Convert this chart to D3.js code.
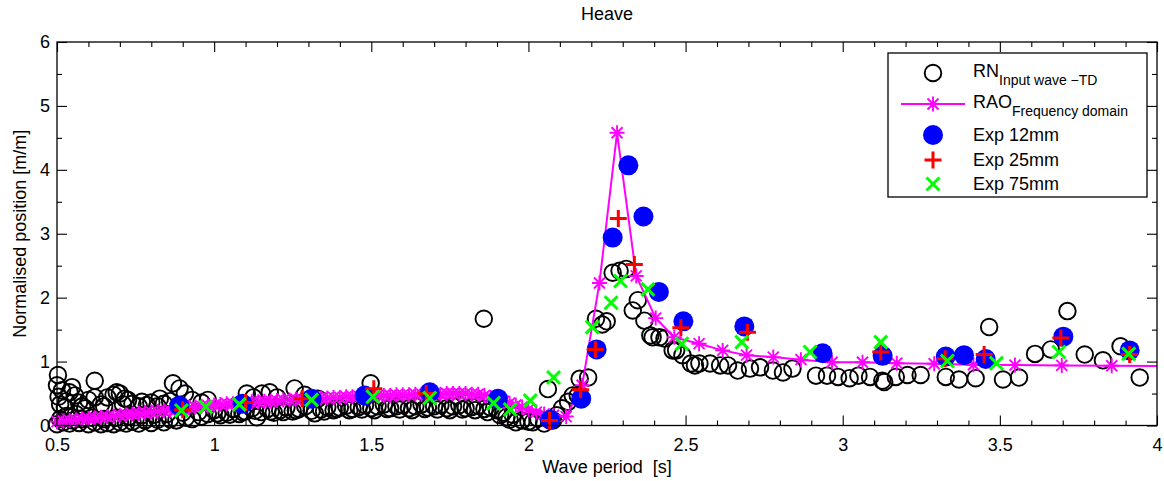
<!DOCTYPE html>
<html><head><meta charset="utf-8">
<script src="https://cdn.jsdelivr.net/npm/d3@7"></script>
<style>
body{margin:0;background:#fff}
svg text{font-family:"Liberation Sans",Arial,Helvetica,sans-serif;fill:#000}
</style>
</head><body>
<svg id="c" width="1164" height="481"></svg>
<script>
// ---- data ----
const titleText = "Heave";
const xLabel = "Wave period  [s]";
const yLabel = "Normalised position [m/m]";
const xTickValues = [0.5, 1, 1.5, 2, 2.5, 3, 3.5, 4];
const yTickValues = [0, 1, 2, 3, 4, 5, 6];
const seriesNames = ["RN", "RAO", "Exp 12mm", "Exp 25mm", "Exp 75mm"];
const seriesSubs = ["Input wave \u2212TD", "Frequency domain", "", "", ""];

// RN (input wave, time domain) : [period, value]
const rnPoints = [
 [0.503,0.79],[0.50,0.63],[0.505,0.45],[0.51,0.33],[0.516,0.55],[0.525,0.28],[0.54,0.52],[0.548,0.60],
 [0.557,0.47],[0.57,0.36],[0.58,0.30],[0.60,0.40],[0.62,0.70],[0.62,0.44],[0.64,0.33],[0.66,0.44],
 [0.68,0.48],[0.69,0.52],[0.70,0.50],[0.716,0.42],[0.726,0.40],[0.74,0.34],[0.76,0.30],[0.786,0.32],
 [0.80,0.36],[0.827,0.42],[0.84,0.34],[0.869,0.66],[0.89,0.58],[0.907,0.50],[0.93,0.40],[0.96,0.36],
 [0.53,0.38],[0.59,0.27],[0.65,0.30],[0.71,0.33],[0.77,0.37],[0.82,0.30],[0.86,0.38],[0.98,0.40],
 [1.104,0.50],[1.125,0.44],[1.152,0.50],[1.177,0.52],[1.20,0.44],[1.256,0.58],[1.288,0.48],[1.33,0.42],
 [1.498,0.66],[1.858,1.67],
 [0.50,0.02],[0.51,0.10],[0.52,0.05],[0.53,0.15],[0.54,0.03],[0.55,0.08],[0.56,0.18],[0.57,0.04],
 [0.58,0.10],[0.60,0.02],[0.61,0.12],[0.62,0.05],[0.64,0.02],[0.65,0.10],[0.66,0.04],[0.68,0.02],
 [0.69,0.12],[0.70,0.05],[0.72,0.03],[0.73,0.14],[0.74,0.06],[0.76,0.03],[0.77,0.16],[0.78,0.08],
 [0.80,0.04],[0.81,0.17],[0.82,0.09],[0.84,0.05],[0.85,0.18],[0.86,0.10],[0.88,0.08],[0.90,0.20],
 [0.91,0.12],[0.93,0.10],[0.95,0.21],[0.96,0.14],[0.98,0.18],[1.00,0.24],[1.02,0.16],[1.04,0.20],
 [1.06,0.26],[1.08,0.18],[1.10,0.22],[1.12,0.27],[1.136,0.13],[1.15,0.21],[1.17,0.26],[1.19,0.20],
 [1.21,0.24],[1.23,0.28],[1.25,0.22],[1.27,0.26],[1.29,0.30],[1.32,0.19],[1.34,0.25],[1.36,0.29],
 [1.38,0.24],[1.40,0.28],[1.42,0.31],[1.44,0.26],[1.46,0.29],[1.48,0.32],[1.50,0.27],[1.52,0.30],
 [1.54,0.33],[1.56,0.27],[1.58,0.30],[1.60,0.32],[1.62,0.27],[1.64,0.30],[1.66,0.33],[1.68,0.28],
 [1.70,0.30],[1.72,0.32],[1.74,0.27],[1.76,0.30],[1.78,0.32],[1.80,0.27],[1.82,0.29],[1.84,0.31],
 [1.86,0.26],[1.88,0.28],[1.90,0.24],[1.92,0.20],[1.93,0.13],[1.95,0.17],[1.96,0.05],[1.98,0.08],
 [1.01,0.19],[1.05,0.17],[1.09,0.21],[1.13,0.23],[1.18,0.22],[1.22,0.21],[1.26,0.24],[1.31,0.23],
 [1.35,0.22],[1.39,0.26],[1.43,0.24],[1.47,0.25],[1.51,0.24],[1.55,0.26],[1.59,0.25],[1.63,0.24],
 [1.67,0.26],[1.71,0.25],[1.75,0.24],[1.79,0.25],[1.83,0.24],[1.87,0.21],[1.91,0.16],[1.94,0.09],
 [2.00,0.06],[2.014,0.05],[2.03,0.11],[2.05,0.03],[2.062,0.57],[2.078,0.08],[2.09,0.16],[2.107,0.27],
 [2.126,0.37],[2.141,0.47],[2.157,0.47],[2.163,0.73],[2.19,0.75],[2.215,1.67],[2.235,1.58],[2.249,1.63],
 [2.268,2.39],[2.29,2.42],[2.311,2.45],[2.332,1.80],[2.348,1.96],[2.369,1.64],[2.388,1.41],[2.395,1.38],
 [2.417,1.38],[2.433,1.36],[2.459,1.175],[2.47,1.175],[2.49,1.10],[2.517,0.97],[2.53,0.94],[2.544,0.97],
 [2.578,0.97],[2.61,0.94],[2.635,0.94],[2.666,0.86],[2.705,0.89],[2.737,0.91],[2.778,0.86],[2.81,0.83],
 [2.84,0.89],[2.915,0.78],[2.95,0.78],[2.985,0.76],[3.022,0.74],[3.05,0.78],[3.087,0.76],[3.126,0.70],
 [3.132,0.68],[3.169,0.76],[3.206,0.79],[3.248,0.79],[3.328,0.76],[3.37,0.72],[3.423,0.74],[3.466,1.54],
 [3.51,0.72],[3.561,0.75],[3.612,1.12],[3.662,1.19],[3.715,1.79],[3.77,1.11],[3.828,1.02],[3.884,1.24],
 [3.945,0.75]
];

// RAO (frequency domain)
const raoPoints = [
 [0.50,0.06],[0.52,0.07],[0.54,0.08],[0.56,0.09],[0.58,0.10],[0.60,0.11],[0.62,0.12],[0.64,0.13],
 [0.66,0.14],[0.68,0.15],[0.70,0.16],[0.72,0.17],[0.74,0.18],[0.76,0.19],[0.78,0.20],[0.80,0.21],
 [0.82,0.22],[0.84,0.23],[0.86,0.24],[0.88,0.25],[0.90,0.26],[0.92,0.28],[0.94,0.29],[0.96,0.30],
 [0.98,0.31],[1.00,0.32],[1.02,0.33],[1.04,0.34],[1.06,0.34],[1.08,0.35],[1.10,0.36],[1.12,0.37],
 [1.14,0.37],[1.16,0.38],[1.18,0.38],[1.20,0.39],[1.22,0.40],[1.24,0.40],[1.26,0.41],[1.28,0.41],
 [1.30,0.42],[1.32,0.42],[1.34,0.43],[1.36,0.43],[1.38,0.44],[1.40,0.44],[1.42,0.45],[1.44,0.45],
 [1.46,0.46],[1.48,0.46],[1.50,0.46],[1.52,0.47],[1.54,0.47],[1.56,0.47],[1.58,0.48],[1.60,0.48],
 [1.62,0.48],[1.64,0.49],[1.66,0.49],[1.68,0.49],[1.70,0.49],[1.72,0.49],[1.74,0.50],[1.76,0.50],
 [1.78,0.50],[1.80,0.50],[1.82,0.49],[1.84,0.49],[1.86,0.47],[1.88,0.44],[1.90,0.41],[1.92,0.38],
 [1.94,0.35],[1.96,0.32],[1.98,0.29],[2.00,0.25],[2.025,0.21],[2.05,0.18],[2.08,0.16],[2.12,0.14],
 [2.171,0.63],[2.226,2.23],[2.282,4.58],[2.343,2.34],[2.405,1.68],[2.464,1.38],[2.543,1.28],[2.618,1.175],
 [2.694,1.10],[2.779,1.07],[2.867,1.03],[2.966,0.99],[3.063,0.99],[3.172,0.975],[3.291,0.966],[3.416,0.95],
 [3.548,0.945],[3.697,0.94],[3.856,0.935],[4.02,0.93]
];

const exp12Points = [
 [0.889,0.31],[1.09,0.34],[1.31,0.42],[1.479,0.47],[1.686,0.52],[1.903,0.42],[2.069,0.09],[2.168,0.42],
 [2.217,1.19],[2.268,2.94],[2.318,4.07],[2.366,3.27],[2.415,2.09],[2.493,1.63],[2.687,1.55],[2.936,1.13],
 [3.127,1.09],[3.328,1.08],[3.386,1.10],[3.455,1.04],[3.702,1.39],[3.913,1.175]
];
const exp25Points = [
 [0.90,0.245],[1.10,0.36],[1.28,0.42],[1.508,0.575],[1.675,0.50],[2.067,0.08],[2.166,0.56],[2.213,1.19],
 [2.286,3.24],[2.337,2.52],[2.485,1.53],[2.697,1.46],[3.121,1.15],[3.326,1.045],[3.45,1.11],[3.694,1.37],
 [3.913,1.11]
];
const exp75Points = [
 [0.896,0.235],[0.973,0.29],[1.08,0.33],[1.31,0.40],[1.505,0.45],[1.686,0.43],[1.889,0.35],[1.942,0.25],
 [2.006,0.39],[2.08,0.75],[2.203,1.54],[2.263,1.92],[2.293,2.26],[2.38,2.13],[2.488,1.28],[2.679,1.305],
 [2.896,1.15],[3.121,1.305],[3.333,1.01],[3.489,0.976],[3.688,1.15],[3.91,1.12]
];

// ---- drawing ----
const svg = d3.select("#c");
const box = {l:57, r:1157, t:42, b:425.5};
const x = d3.scaleLinear().domain([0.5, 4]).range([box.l, box.r]);
const y = d3.scaleLinear().domain([0, 6]).range([box.b, box.t]);
const FS = 18;

svg.append("rect").attr("width",1164).attr("height",481).attr("fill","#fff");

svg.append("defs").append("clipPath").attr("id","clip")
  .append("rect").attr("x",box.l).attr("y",box.t).attr("width",box.r-box.l).attr("height",box.b-box.t);

// axes
const xMinor = d3.range(5, 41).map(d => d/10).filter(v => !xTickValues.some(t => Math.abs(t-v) < 1e-9));
const yMinor = d3.range(1, 12, 2).map(d => d/2);
const fmt = d => String(d);

function styleAxis(g){
  g.select(".domain").remove();
  g.selectAll("line").attr("stroke","#000").attr("stroke-width",1.1);
  g.selectAll("text").attr("font-size",FS).attr("fill","#000")
    .attr("font-family",'"Liberation Sans",Arial,Helvetica,sans-serif');
}
svg.append("g").attr("transform",`translate(0,${box.b})`)
  .call(d3.axisBottom(x).tickValues(xTickValues).tickFormat(fmt).tickSize(-10).tickPadding(13)).call(styleAxis);
svg.append("g").attr("transform",`translate(0,${box.b})`)
  .call(d3.axisBottom(x).tickValues(xMinor).tickFormat("").tickSize(-5)).call(styleAxis);
svg.append("g").attr("transform",`translate(0,${box.t})`)
  .call(d3.axisTop(x).tickValues(xTickValues).tickFormat("").tickSize(-10)).call(styleAxis);
svg.append("g").attr("transform",`translate(0,${box.t})`)
  .call(d3.axisTop(x).tickValues(xMinor).tickFormat("").tickSize(-5)).call(styleAxis);
svg.append("g").attr("transform",`translate(${box.l},0)`)
  .call(d3.axisLeft(y).tickValues(yTickValues).tickFormat(fmt).tickSize(-10).tickPadding(7)).call(styleAxis);
svg.append("g").attr("transform",`translate(${box.l},0)`)
  .call(d3.axisLeft(y).tickValues(yMinor).tickFormat("").tickSize(-5)).call(styleAxis);
svg.append("g").attr("transform",`translate(${box.r},0)`)
  .call(d3.axisRight(y).tickValues(yTickValues).tickFormat("").tickSize(-10)).call(styleAxis);
svg.append("g").attr("transform",`translate(${box.r},0)`)
  .call(d3.axisRight(y).tickValues(yMinor).tickFormat("").tickSize(-5)).call(styleAxis);

// RN circles
const rnR = 8.3, rnW = 1.9;
svg.append("g").selectAll("circle").data(rnPoints).join("circle")
  .attr("cx", d => x(d[0])).attr("cy", d => y(d[1])).attr("r", rnR)
  .attr("fill","none").attr("stroke","#000").attr("stroke-width",rnW);

// RAO line + asterisks
const astPath = "M-7.5,0H7.5M0,-7.5V7.5M-5.5,-5.5L5.5,5.5M-5.5,5.5L5.5,-5.5";
svg.append("path").datum(raoPoints).attr("clip-path","url(#clip)")
  .attr("d", d3.line().x(d => x(d[0])).y(d => y(d[1])))
  .attr("fill","none").attr("stroke","#ff00ff").attr("stroke-width",2);
svg.append("g").selectAll("path").data(raoPoints.filter(d => d[0] <= 4)).join("path")
  .attr("transform", d => `translate(${x(d[0])},${y(d[1])})`).attr("d", astPath)
  .attr("fill","none").attr("stroke","#ff00ff").attr("stroke-width",1.9);

// Exp 12mm
svg.append("g").selectAll("circle").data(exp12Points).join("circle")
  .attr("cx", d => x(d[0])).attr("cy", d => y(d[1])).attr("r", 10).attr("fill","#0000ff");
// Exp 25mm
const plusPath = "M-8.5,0H8.5M0,-8.5V8.5";
svg.append("g").selectAll("path").data(exp25Points).join("path")
  .attr("transform", d => `translate(${x(d[0])},${y(d[1])})`).attr("d", plusPath)
  .attr("fill","none").attr("stroke","#ff0000").attr("stroke-width",3);
// Exp 75mm
const crossPath = "M-6.5,-6.5L6.5,6.5M-6.5,6.5L6.5,-6.5";
svg.append("g").selectAll("path").data(exp75Points).join("path")
  .attr("transform", d => `translate(${x(d[0])},${y(d[1])})`).attr("d", crossPath)
  .attr("fill","none").attr("stroke","#00ff00").attr("stroke-width",3);

// box
svg.append("rect").attr("x",box.l).attr("y",box.t).attr("width",box.r-box.l).attr("height",box.b-box.t)
  .attr("fill","none").attr("stroke","#000").attr("stroke-width",1.3);

// titles
svg.append("text").attr("x",(box.l+box.r)/2).attr("y",20).attr("text-anchor","middle")
  .attr("font-size",FS).text(titleText);
svg.append("text").attr("x",(box.l+box.r)/2).attr("y",473).attr("text-anchor","middle")
  .attr("font-size",FS).style("white-space","pre").text(xLabel);
svg.append("text").attr("transform",`translate(25.5,${(box.t+box.b)/2}) rotate(-90)`)
  .attr("text-anchor","middle").attr("font-size",FS).text(yLabel);

// legend
const lg = svg.append("g");
lg.append("rect").attr("x",888).attr("y",53).attr("width",259).attr("height",144)
  .attr("fill","#fff").attr("stroke","#000").attr("stroke-width",1.3);
const symY = [73, 104, 135, 160, 184];
const txtY = [77, 108, 141, 166, 190];
const sx = 933;
lg.append("circle").attr("cx",sx).attr("cy",symY[0]).attr("r",rnR)
  .attr("fill","none").attr("stroke","#000").attr("stroke-width",rnW);
lg.append("line").attr("x1",901).attr("x2",965).attr("y1",symY[1]).attr("y2",symY[1])
  .attr("stroke","#ff00ff").attr("stroke-width",2);
lg.append("path").attr("transform",`translate(${sx},${symY[1]})`).attr("d",astPath)
  .attr("fill","none").attr("stroke","#ff00ff").attr("stroke-width",1.9);
lg.append("circle").attr("cx",sx).attr("cy",symY[2]).attr("r",10).attr("fill","#0000ff");
lg.append("path").attr("transform",`translate(${sx},${symY[3]})`).attr("d",plusPath)
  .attr("fill","none").attr("stroke","#ff0000").attr("stroke-width",3);
lg.append("path").attr("transform",`translate(${sx},${symY[4]})`).attr("d",crossPath)
  .attr("fill","none").attr("stroke","#00ff00").attr("stroke-width",3);
seriesNames.forEach((n,i) => {
  const t = lg.append("text").attr("x",973).attr("y",txtY[i]).attr("font-size",FS);
  t.append("tspan").text(n);
  if (seriesSubs[i]) t.append("tspan").attr("font-size",14).attr("dy",8).text(seriesSubs[i]);
});
</script>
</body></html>
